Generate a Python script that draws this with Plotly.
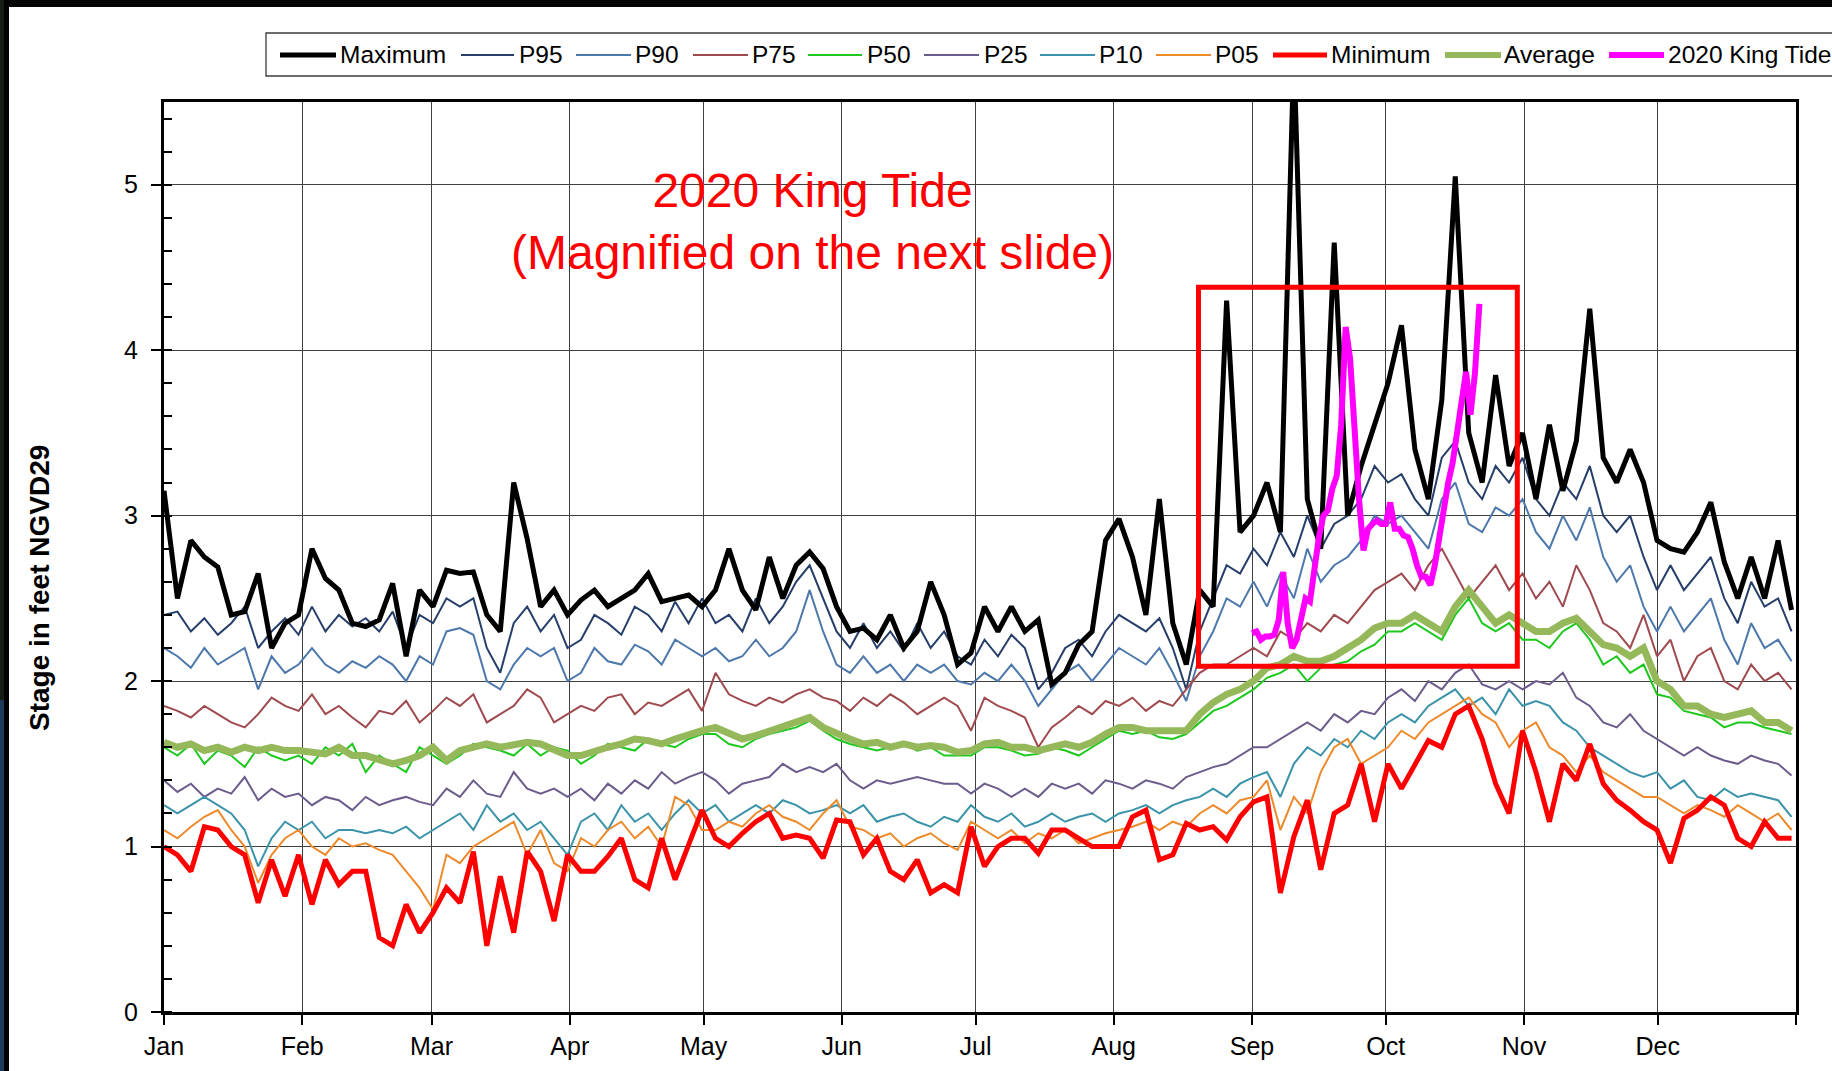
import pandas as pd
import plotly.graph_objects as go

# ---------------- data ----------------
DATES = pd.date_range("2020-01-01", "2020-12-31", periods=122)

MAXIMUM = [3.15, 2.5, 2.85, 2.75, 2.69, 2.4, 2.42, 2.65, 2.2, 2.35, 2.4,
           2.8, 2.62, 2.55, 2.35, 2.33, 2.37, 2.59, 2.15, 2.55,
           2.45, 2.67, 2.65, 2.66, 2.4, 2.3, 3.2, 2.86, 2.45, 2.55, 2.4,
           2.49, 2.55, 2.45, 2.5, 2.55, 2.65, 2.48, 2.5, 2.52, 2.45,
           2.55, 2.8, 2.55, 2.43, 2.75, 2.5, 2.7, 2.78, 2.68, 2.45,
           2.3, 2.32, 2.25, 2.4, 2.2, 2.3, 2.6, 2.4, 2.1, 2.17,
           2.45, 2.3, 2.45, 2.3, 2.37, 1.98, 2.05, 2.22, 2.3, 2.85,
           2.98, 2.75, 2.4, 3.1, 2.35, 2.1, 2.55, 2.45, 4.3, 2.9, 3.0,
           3.2, 2.9, 5.8, 3.1, 2.8, 4.65, 3.0, 3.3, 3.55, 3.8,
           4.15, 3.4, 3.1, 3.7, 5.05, 3.5, 3.2, 3.85, 3.3, 3.5,
           3.1, 3.55, 3.15, 3.45, 4.25, 3.35, 3.2, 3.4, 3.2, 2.85,
           2.8, 2.78, 2.9, 3.08, 2.72, 2.5, 2.75, 2.5, 2.85, 2.43]

P95 = [2.4, 2.42, 2.3, 2.38, 2.28, 2.35, 2.45, 2.2, 2.3, 2.38, 2.28,
       2.45, 2.3, 2.4, 2.33, 2.38, 2.3, 2.42, 2.2, 2.4,
       2.35, 2.5, 2.45, 2.5, 2.2, 2.05, 2.35, 2.45, 2.3, 2.4, 2.2,
       2.25, 2.4, 2.35, 2.28, 2.45, 2.4, 2.3, 2.48, 2.35, 2.5,
       2.35, 2.4, 2.3, 2.5, 2.35, 2.45, 2.6, 2.7, 2.5, 2.3,
       2.2, 2.35, 2.2, 2.3, 2.18, 2.35, 2.2, 2.3, 2.15, 2.1,
       2.25, 2.15, 2.28, 2.2, 1.95, 2.05, 2.2, 2.25, 2.15, 2.3,
       2.4, 2.35, 2.3, 2.38, 2.2, 1.95, 2.3, 2.5, 2.7, 2.65, 2.8,
       2.7, 2.9, 2.75, 3.0, 2.8, 2.95, 3.0, 3.1, 3.3, 3.2,
       3.25, 3.1, 3.0, 3.35, 3.45, 3.2, 3.1, 3.3, 3.2, 3.35,
       3.1, 3.0, 3.2, 3.1, 3.3, 3.0, 2.9, 3.0, 2.75, 2.55,
       2.7, 2.55, 2.65, 2.75, 2.5, 2.35, 2.6, 2.45, 2.5, 2.3]

P90 = [2.2, 2.15, 2.08, 2.2, 2.1, 2.15, 2.2, 1.95, 2.15, 2.05, 2.1,
       2.2, 2.1, 2.05, 2.12, 2.08, 2.15, 2.1, 2.0, 2.15,
       2.1, 2.3, 2.32, 2.28, 2.0, 1.95, 2.1, 2.2, 2.15, 2.2, 2.0,
       2.05, 2.2, 2.12, 2.1, 2.22, 2.18, 2.1, 2.25, 2.2, 2.15,
       2.2, 2.12, 2.15, 2.25, 2.15, 2.2, 2.3, 2.55, 2.3, 2.1,
       2.05, 2.15, 2.05, 2.1, 2.0, 2.1, 2.05, 2.1, 2.0, 1.98,
       2.05, 2.0, 2.1, 2.0, 1.85, 1.95, 2.05, 2.1, 2.0, 2.1,
       2.2, 2.15, 2.1, 2.2, 2.05, 1.88, 2.15, 2.3, 2.5, 2.45, 2.6,
       2.45, 2.65, 2.5, 2.8, 2.6, 2.7, 2.75, 2.85, 3.0, 2.95,
       3.0, 2.9, 2.8, 3.1, 3.2, 2.95, 2.9, 3.05, 3.0, 3.1,
       2.9, 2.8, 3.0, 2.85, 3.05, 2.75, 2.6, 2.7, 2.45, 2.3,
       2.45, 2.3, 2.4, 2.5, 2.25, 2.1, 2.35, 2.2, 2.25, 2.12]

P75 = [1.85, 1.82, 1.78, 1.85, 1.8, 1.75, 1.72, 1.8, 1.9, 1.85, 1.82,
       1.92, 1.8, 1.85, 1.78, 1.72, 1.82, 1.8, 1.88, 1.75,
       1.82, 1.9, 1.85, 1.92, 1.75, 1.8, 1.85, 1.95, 1.9, 1.75, 1.8,
       1.85, 1.82, 1.9, 1.92, 1.8, 1.87, 1.85, 1.9, 1.95, 1.82,
       2.05, 1.92, 1.88, 1.85, 1.9, 1.87, 1.92, 1.95, 1.9, 1.88,
       1.82, 1.9, 1.85, 1.92, 1.87, 1.8, 1.85, 1.9, 1.85, 1.7,
       1.9, 1.85, 1.82, 1.78, 1.6, 1.72, 1.78, 1.85, 1.8, 1.88,
       1.85, 1.9, 1.82, 1.88, 1.85, 1.95, 2.05, 2.1, 2.1, 2.15, 2.2,
       2.15, 2.3, 2.25, 2.35, 2.3, 2.4, 2.35, 2.45, 2.55, 2.6,
       2.65, 2.55, 2.7, 2.8, 2.65, 2.5, 2.6, 2.7, 2.55, 2.65,
       2.5, 2.6, 2.45, 2.7, 2.55, 2.35, 2.3, 2.2, 2.4, 2.15,
       2.25, 2.0, 2.15, 2.2, 2.0, 1.95, 2.1, 2.0, 2.05, 1.95]

P50 = [1.6, 1.55, 1.62, 1.5, 1.58, 1.55, 1.48, 1.6, 1.55, 1.52, 1.55,
       1.5, 1.6, 1.55, 1.62, 1.45, 1.55, 1.5, 1.45, 1.6,
       1.55, 1.5, 1.55, 1.62, 1.6, 1.58, 1.55, 1.62, 1.55, 1.6, 1.58,
       1.5, 1.55, 1.62, 1.6, 1.58, 1.65, 1.62, 1.6, 1.65, 1.68,
       1.68, 1.62, 1.6, 1.65, 1.68, 1.7, 1.72, 1.76, 1.7, 1.65,
       1.62, 1.6, 1.58, 1.6, 1.62, 1.58, 1.6, 1.55, 1.55, 1.55,
       1.6, 1.6, 1.58, 1.55, 1.56, 1.6, 1.58, 1.55, 1.6, 1.65,
       1.7, 1.68, 1.7, 1.66, 1.65, 1.68, 1.75, 1.82, 1.85, 1.9, 1.95,
       2.02, 2.05, 2.1, 2.0, 2.08, 2.1, 2.12, 2.18, 2.22, 2.3,
       2.3, 2.35, 2.3, 2.25, 2.4, 2.5, 2.35, 2.3, 2.35, 2.25,
       2.25, 2.2, 2.3, 2.35, 2.25, 2.1, 2.15, 2.05, 2.1, 1.92,
       1.9, 1.82, 1.8, 1.78, 1.72, 1.75, 1.75, 1.72, 1.7, 1.68]

P25 = [1.4, 1.33, 1.38, 1.3, 1.35, 1.32, 1.42, 1.28, 1.35, 1.3, 1.32,
       1.25, 1.3, 1.28, 1.22, 1.3, 1.25, 1.28, 1.3, 1.27,
       1.25, 1.35, 1.3, 1.4, 1.32, 1.3, 1.45, 1.35, 1.32, 1.35, 1.3,
       1.35, 1.28, 1.38, 1.32, 1.4, 1.35, 1.45, 1.38, 1.42, 1.45,
       1.4, 1.32, 1.38, 1.4, 1.42, 1.5, 1.45, 1.48, 1.45, 1.5,
       1.4, 1.35, 1.4, 1.38, 1.4, 1.42, 1.4, 1.38, 1.38, 1.32,
       1.38, 1.35, 1.3, 1.35, 1.3, 1.38, 1.35, 1.38, 1.32, 1.4,
       1.38, 1.35, 1.4, 1.38, 1.35, 1.42, 1.45, 1.48, 1.5, 1.55, 1.6,
       1.6, 1.65, 1.7, 1.75, 1.7, 1.8, 1.75, 1.82, 1.8, 1.9,
       1.95, 1.88, 2.0, 1.95, 2.05, 2.1, 1.98, 1.95, 2.0, 1.95,
       2.0, 1.98, 2.05, 1.9, 1.85, 1.75, 1.72, 1.8, 1.7, 1.65,
       1.6, 1.55, 1.6, 1.55, 1.52, 1.5, 1.55, 1.52, 1.5, 1.43]

P10 = [1.25, 1.2, 1.25, 1.3, 1.25, 1.2, 1.1, 0.88, 1.05, 1.15, 1.1,
       1.15, 1.05, 1.1, 1.1, 1.08, 1.1, 1.08, 1.12, 1.05,
       1.1, 1.15, 1.2, 1.1, 1.25, 1.15, 1.2, 1.1, 1.15, 1.05, 0.95,
       1.15, 1.2, 1.1, 1.25, 1.15, 1.2, 1.1, 1.2, 1.28, 1.2,
       1.25, 1.15, 1.2, 1.25, 1.2, 1.28, 1.25, 1.2, 1.22, 1.25,
       1.2, 1.25, 1.15, 1.18, 1.2, 1.15, 1.12, 1.18, 1.15, 1.25,
       1.18, 1.15, 1.2, 1.12, 1.15, 1.2, 1.15, 1.18, 1.2, 1.15,
       1.2, 1.22, 1.25, 1.2, 1.25, 1.28, 1.3, 1.35, 1.3, 1.38, 1.42,
       1.45, 1.3, 1.5, 1.6, 1.55, 1.65, 1.6, 1.7, 1.65, 1.75,
       1.8, 1.75, 1.85, 1.9, 1.95, 1.85, 1.9, 1.8, 1.95, 1.85,
       1.88, 1.85, 1.75, 1.7, 1.6, 1.55, 1.5, 1.45, 1.42, 1.45,
       1.35, 1.4, 1.3, 1.28, 1.35, 1.3, 1.32, 1.3, 1.28, 1.18]

P05 = [1.1, 1.05, 1.12, 1.18, 1.22, 1.1, 1.0, 0.78, 0.95, 1.05, 1.1,
       1.0, 0.95, 1.05, 1.0, 1.02, 0.98, 0.95, 0.85, 0.75,
       0.62, 0.95, 0.9, 1.0, 1.05, 1.1, 1.15, 0.95, 1.1, 0.9, 0.85,
       1.05, 1.0, 1.1, 1.15, 1.05, 1.12, 1.0, 1.3, 1.25, 1.1,
       1.1, 1.15, 1.12, 1.2, 1.25, 1.18, 1.15, 1.1, 1.2, 1.28,
       1.12, 1.1, 1.05, 1.08, 1.0, 1.05, 1.08, 1.02, 0.98, 1.15,
       1.1, 1.05, 1.1, 1.02, 1.08, 1.05, 1.1, 1.02, 1.05, 1.08,
       1.1, 1.12, 1.15, 1.1, 1.15, 1.12, 1.2, 1.25, 1.2, 1.28, 1.3,
       1.4, 1.1, 1.3, 1.2, 1.45, 1.6, 1.65, 1.5, 1.55, 1.6,
       1.7, 1.65, 1.75, 1.8, 1.85, 1.9, 1.8, 1.75, 1.6, 1.7,
       1.75, 1.6, 1.55, 1.45, 1.55, 1.45, 1.4, 1.35, 1.3, 1.3,
       1.25, 1.2, 1.25, 1.22, 1.18, 1.25, 1.2, 1.15, 1.2, 1.1]

MINIMUM = [1.0, 0.95, 0.85, 1.12, 1.1, 1.0, 0.95, 0.66, 0.92, 0.7, 0.95,
           0.65, 0.92, 0.77, 0.85, 0.85, 0.45, 0.4, 0.65, 0.48,
           0.6, 0.75, 0.66, 0.97, 0.4, 0.82, 0.48, 0.97, 0.85, 0.55, 0.95,
           0.85, 0.85, 0.94, 1.05, 0.8, 0.75, 1.05, 0.8, 1.0, 1.22,
           1.05, 1.0, 1.08, 1.15, 1.2, 1.05, 1.07, 1.05, 0.93, 1.16,
           1.15, 0.95, 1.05, 0.85, 0.8, 0.92, 0.72, 0.77, 0.72, 1.12,
           0.88, 1.0, 1.05, 1.05, 0.96, 1.1, 1.1, 1.05, 1.0, 1.0,
           1.0, 1.18, 1.22, 0.92, 0.95, 1.14, 1.1, 1.12, 1.04, 1.18, 1.27,
           1.3, 0.72, 1.06, 1.28, 0.86, 1.2, 1.25, 1.5, 1.15, 1.5,
           1.35, 1.5, 1.64, 1.6, 1.8, 1.85, 1.65, 1.38, 1.2, 1.7,
           1.45, 1.15, 1.5, 1.4, 1.62, 1.38, 1.28, 1.22, 1.15, 1.1,
           0.9, 1.17, 1.22, 1.3, 1.25, 1.05, 1.0, 1.15, 1.05, 1.05]

AVERAGE = [1.63, 1.6, 1.62, 1.58, 1.6, 1.57, 1.6, 1.58, 1.6, 1.58, 1.58,
           1.57, 1.56, 1.6, 1.55, 1.55, 1.52, 1.5, 1.52, 1.55,
           1.6, 1.52, 1.58, 1.6, 1.62, 1.6, 1.62, 1.63, 1.62, 1.58, 1.55,
           1.55, 1.58, 1.6, 1.62, 1.65, 1.64, 1.62, 1.65, 1.68, 1.7,
           1.72, 1.68, 1.65, 1.67, 1.7, 1.72, 1.75, 1.78, 1.72, 1.68,
           1.65, 1.62, 1.63, 1.6, 1.62, 1.6, 1.61, 1.6, 1.57, 1.58,
           1.62, 1.63, 1.6, 1.6, 1.58, 1.6, 1.62, 1.6, 1.63, 1.68,
           1.72, 1.72, 1.7, 1.7, 1.7, 1.7, 1.8, 1.87, 1.92, 1.95, 2.0,
           2.08, 2.1, 2.15, 2.12, 2.12, 2.15, 2.2, 2.25, 2.32, 2.35,
           2.35, 2.4, 2.35, 2.3, 2.45, 2.55, 2.45, 2.35, 2.4, 2.35,
           2.3, 2.3, 2.35, 2.38, 2.3, 2.22, 2.2, 2.15, 2.2, 2.0,
           1.95, 1.85, 1.85, 1.8, 1.78, 1.8, 1.82, 1.75, 1.75, 1.7]

KING_TIDE_DATES = pd.date_range("2020-09-01", periods=52, freq="D")
KING_TIDE = [2.29, 2.3, 2.25, 2.27, 2.27, 2.28, 2.37, 2.66, 2.35, 2.2,
             2.25, 2.4, 2.5, 2.48, 2.68, 2.87, 3.0, 3.03, 3.16, 3.24,
             3.55, 4.14, 3.95, 3.45, 3.1, 2.79, 2.92, 2.95, 2.97, 2.95,
             2.95, 3.08, 2.92, 2.92, 2.88, 2.87, 2.8, 2.7, 2.63, 2.63,
             2.58, 2.7, 2.88, 3.05, 3.2, 3.32, 3.5, 3.7, 3.87, 3.61,
             3.86, 4.28]

MONTH_TICKS = ["2020-01-01", "2020-02-01", "2020-03-01", "2020-04-01",
               "2020-05-01", "2020-06-01", "2020-07-01", "2020-08-01",
               "2020-09-01", "2020-10-01", "2020-11-01", "2020-12-01",
               "2021-01-01"]
MONTH_LABELS = ["Jan", "Feb", "Mar", "Apr", "May", "Jun", "Jul", "Aug",
                "Sep", "Oct", "Nov", "Dec", ""]

BOX_DATES = ["2020-08-20", "2020-10-30 12:00"]
BOX_STAGE = [2.09, 4.38]

for s in (MAXIMUM, P95, P90, P75, P50, P25, P10, P05, MINIMUM, AVERAGE):
    assert len(s) == len(DATES), len(s)
assert len(KING_TIDE) == len(KING_TIDE_DATES)

# ---------------- styling ----------------
FONT = "Liberation Sans, Arial, Helvetica, sans-serif"
W, H = 1832, 1071
L, R, T, B = 164, 36, 102, 59
PW, PH = W - L - R, H - T - B


def px(x):
    return (x - L) / PW


def py(y):
    return (H - B - y) / PH


SERIES = [
    ("P95", P95, "#263f6a", 2),
    ("P90", P90, "#4d78ab", 2),
    ("P75", P75, "#9e4a4e", 2),
    ("P50", P50, "#1ec81e", 2),
    ("P25", P25, "#6c5c8c", 2),
    ("P10", P10, "#3a93a9", 2),
    ("P05", P05, "#ec8a2c", 2),
    ("Average", AVERAGE, "#94b85a", 7),
    ("Minimum", MINIMUM, "#ff0000", 5),
    ("Maximum", MAXIMUM, "#000000", 5),
]

fig = go.Figure()
for name, vals, color, width in SERIES:
    fig.add_trace(go.Scatter(x=DATES, y=vals, name=name, mode="lines",
                             line=dict(color=color, width=width),
                             showlegend=False))
fig.add_trace(go.Scatter(x=KING_TIDE_DATES, y=KING_TIDE, name="2020 King Tide",
                         mode="lines", line=dict(color="#ff00ff", width=6),
                         showlegend=False))

shapes = []
annotations = []

# red box around the king tide period
shapes.append(dict(type="rect", xref="x", yref="y",
                   x0=BOX_DATES[0], x1=BOX_DATES[1],
                   y0=BOX_STAGE[0], y1=BOX_STAGE[1],
                   line=dict(color="#ff0000", width=5), layer="above"))

# legend (drawn manually so it runs off the right edge like the original)
shapes.append(dict(type="rect", xref="paper", yref="paper",
                   x0=px(266), x1=px(1850), y0=py(76), y1=py(33),
                   line=dict(color="#3c3c3c", width=1.3), fillcolor="white",
                   layer="above"))
LEGEND = [
    ("Maximum", "#000000", 5, 280, 336, 339),
    ("P95", "#263f6a", 2, 461, 514, 518),
    ("P90", "#4d78ab", 2, 576, 631, 634),
    ("P75", "#9e4a4e", 2, 693, 748, 751),
    ("P50", "#1ec81e", 2, 808, 862, 866),
    ("P25", "#6c5c8c", 2, 924, 979, 983),
    ("P10", "#3a93a9", 2, 1040, 1095, 1098),
    ("P05", "#ec8a2c", 2, 1156, 1211, 1214),
    ("Minimum", "#ff0000", 5, 1273, 1327, 1330),
    ("Average", "#94b85a", 6, 1445, 1501, 1503),
    ("2020 King Tide", "#ff00ff", 6, 1609, 1664, 1667),
]
LEG_Y = 55
for label, color, width, lx0, lx1, tx in LEGEND:
    shapes.append(dict(type="line", xref="paper", yref="paper",
                       x0=px(lx0), x1=px(lx1), y0=py(LEG_Y), y1=py(LEG_Y),
                       line=dict(color=color, width=width), layer="above"))
    annotations.append(dict(xref="paper", yref="paper", x=px(tx), y=py(LEG_Y),
                            text=label, showarrow=False, xanchor="left",
                            yanchor="middle", borderpad=0,
                            font=dict(family=FONT, size=24.5, color="black")))

# slide frame (top band and left strip)
shapes.append(dict(type="rect", xref="paper", yref="paper",
                   x0=px(0), x1=px(W), y0=py(7), y1=py(0),
                   fillcolor="#050505", line=dict(width=0), layer="above"))
shapes.append(dict(type="rect", xref="paper", yref="paper",
                   x0=px(0), x1=px(4), y0=py(700), y1=py(0),
                   fillcolor="#151c12", line=dict(width=0), layer="above"))
shapes.append(dict(type="rect", xref="paper", yref="paper",
                   x0=px(0), x1=px(4), y0=py(H), y1=py(700),
                   fillcolor="#1b3a5c", line=dict(width=0), layer="above"))
shapes.append(dict(type="rect", xref="paper", yref="paper",
                   x0=px(4), x1=px(9), y0=py(H), y1=py(0),
                   fillcolor="#000000", line=dict(width=0), layer="above"))

# y-axis title
annotations.append(dict(xref="paper", yref="paper", x=px(39), y=py(588),
                        text="<b>Stage in feet NGVD29</b>", textangle=-90,
                        showarrow=False, xanchor="center", yanchor="middle",
                        font=dict(family=FONT, size=28, color="black")))

# red call-out text
annotations.append(dict(xref="paper", yref="paper", x=px(812), y=py(222),
                        text="2020 King Tide<br>(Magnified on the next slide)",
                        showarrow=False, xanchor="center", yanchor="middle",
                        align="center",
                        font=dict(family=FONT, size=48, color="#ff0000")))

fig.update_layout(
    width=W, height=H,
    margin=dict(l=L, r=R, t=T, b=B, autoexpand=False),
    paper_bgcolor="white", plot_bgcolor="white",
    showlegend=False,
    shapes=shapes, annotations=annotations,
    font=dict(family=FONT, size=25, color="black"),
)
fig.update_xaxes(
    type="date", range=["2020-01-01", "2021-01-01"],
    tickmode="array", tickvals=MONTH_TICKS, ticktext=MONTH_LABELS,
    ticks="outside", ticklen=10, tickwidth=2, tickcolor="black",
    showgrid=True, gridcolor="#404040", gridwidth=1.2,
    showline=True, linecolor="black", linewidth=3, mirror=True,
    zeroline=False, tickfont=dict(family=FONT, size=25, color="black"),
)
fig.update_yaxes(
    range=[0, 5.5], tick0=0, dtick=1,
    ticks="outside", ticklen=10, tickwidth=2, tickcolor="black",
    minor=dict(dtick=0.2, ticks="inside", ticklen=8, tickwidth=1.5,
               tickcolor="black", showgrid=False),
    showgrid=True, gridcolor="#404040", gridwidth=1.2,
    showline=True, linecolor="black", linewidth=3, mirror=True,
    zeroline=False, ticklabelstandoff=8,
    tickfont=dict(family=FONT, size=25, color="black"),
)

fig.write_html("out.html")
